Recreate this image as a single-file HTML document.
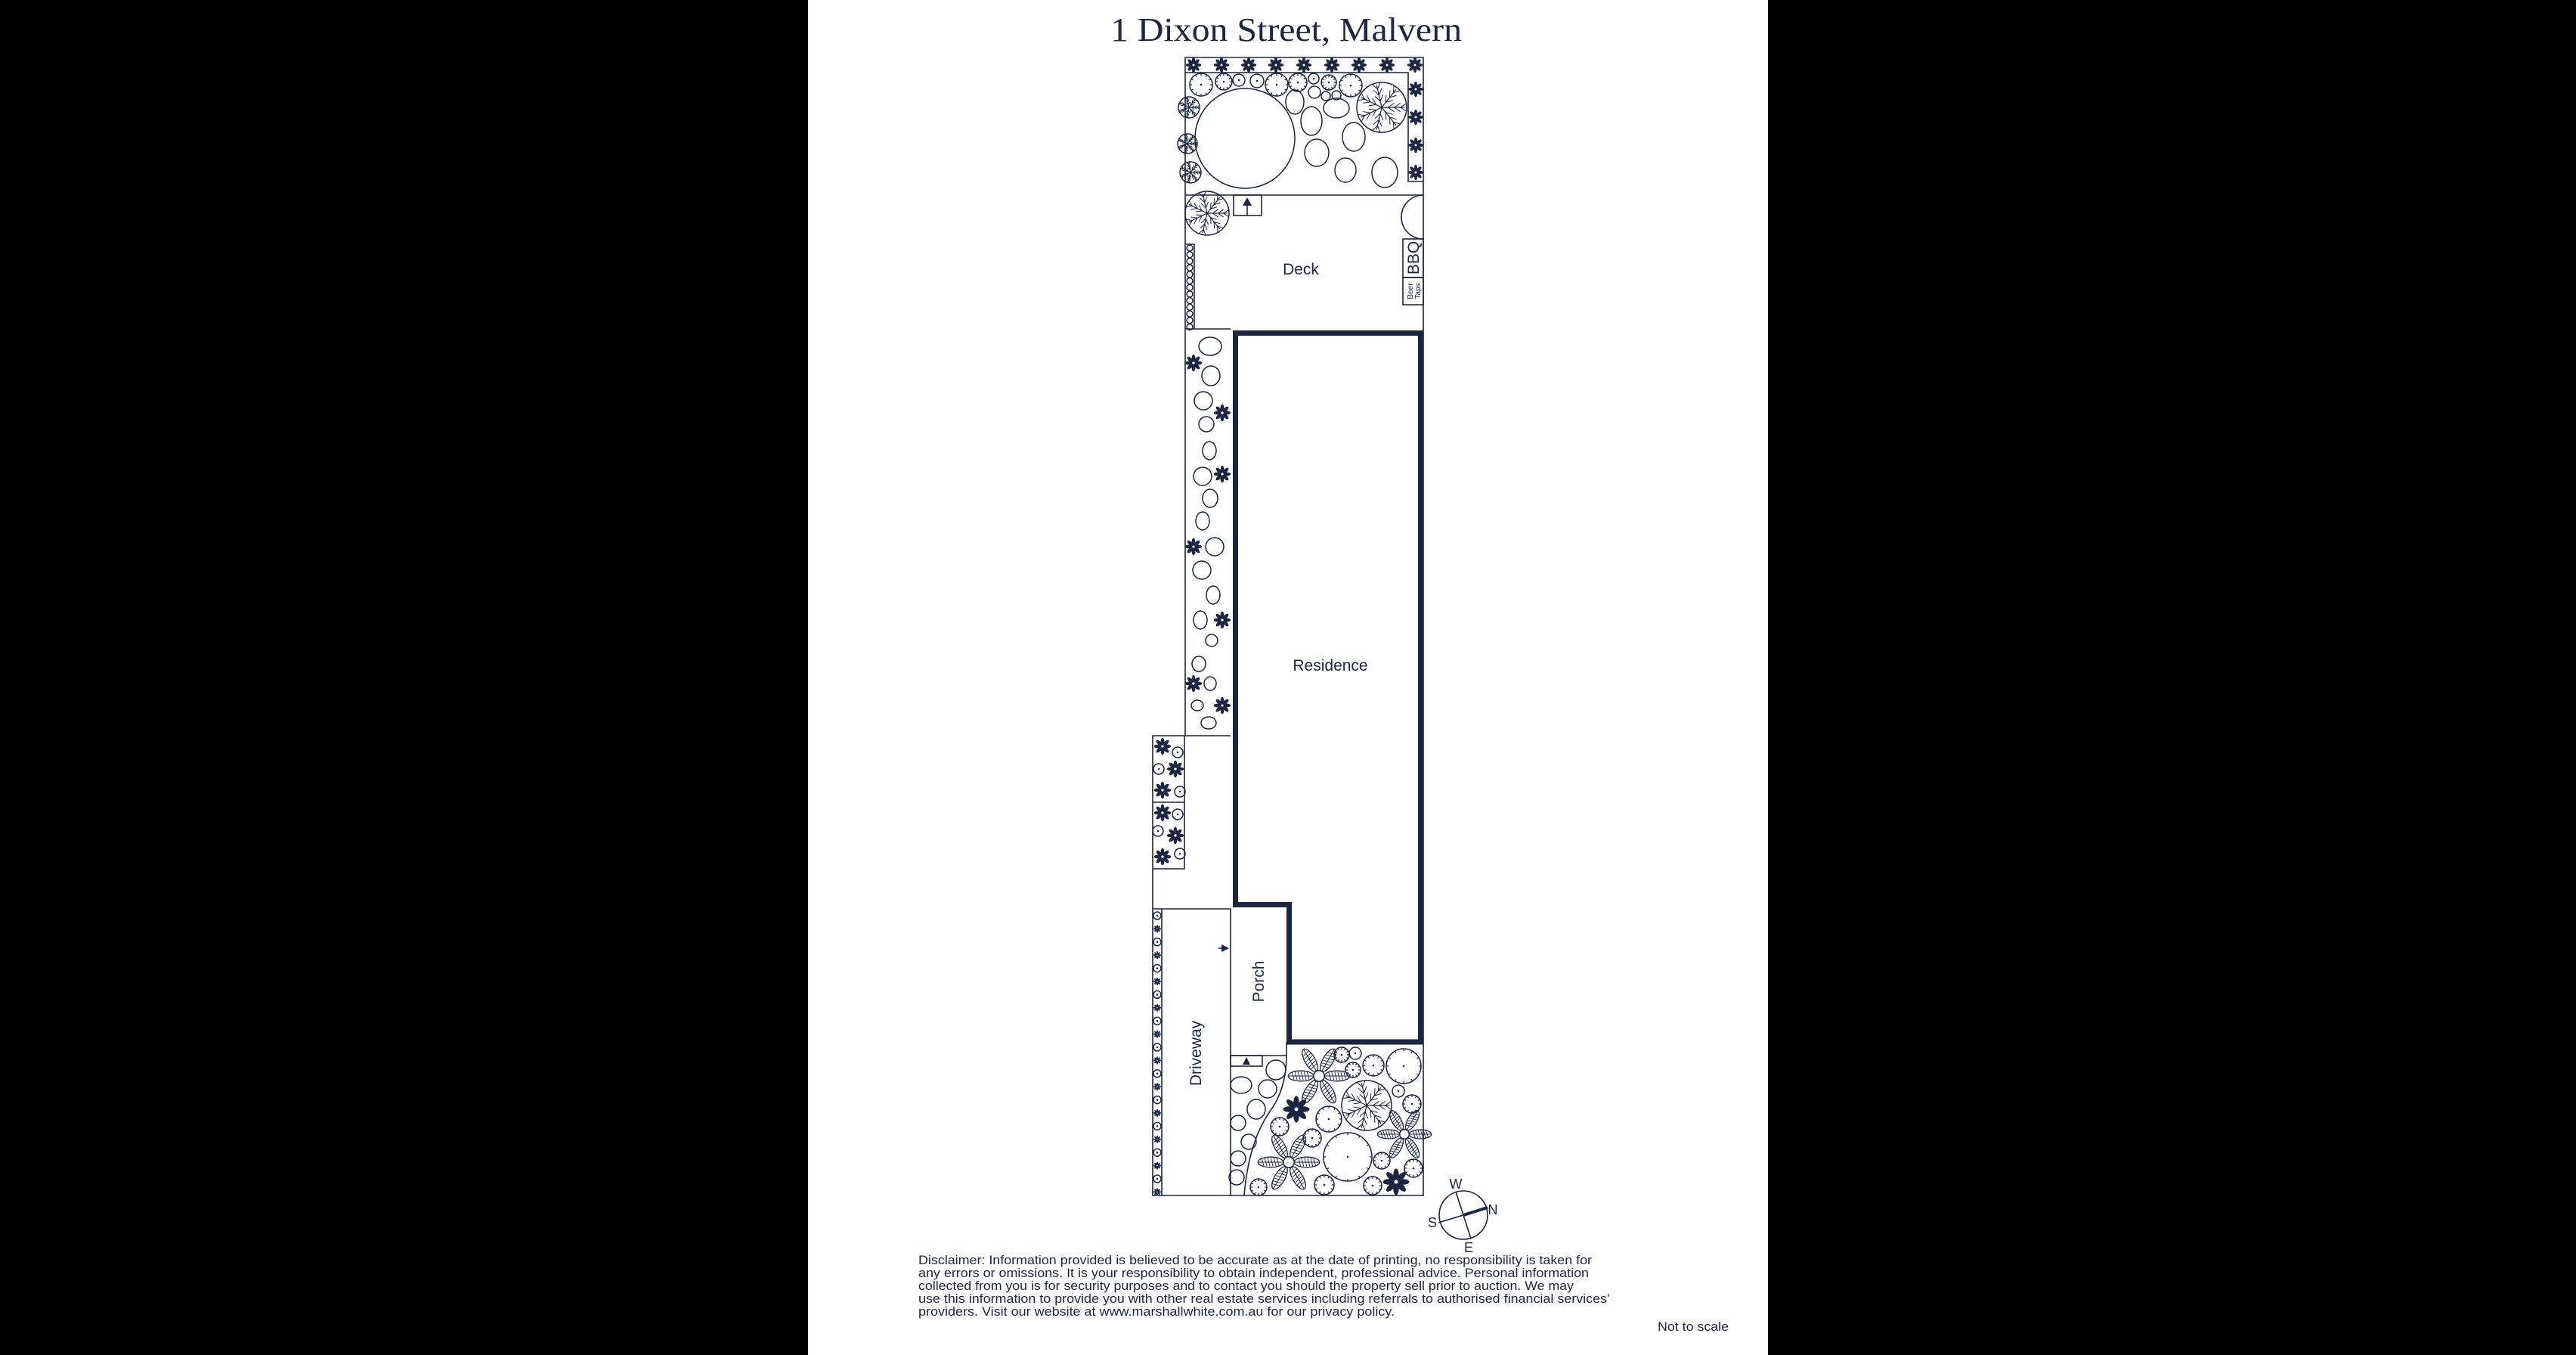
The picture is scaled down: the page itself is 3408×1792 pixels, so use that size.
<!DOCTYPE html>
<html><head><meta charset="utf-8"><style>
html,body{margin:0;padding:0;background:#000;}
svg{display:block}
</style></head><body>
<svg id="s" width="3408" height="1792" viewBox="0 0 3408 1792" xmlns="http://www.w3.org/2000/svg">
<rect x="0" y="0" width="3408" height="1792" fill="#000"/>
<rect x="1069" y="0" width="1270" height="1792" fill="#fff"/>
<text x="1469" y="54" textLength="465" lengthAdjust="spacingAndGlyphs" font-family="Liberation Serif, serif" font-size="44" fill="#1c2541">1 Dixon Street, Malvern</text>
<g id="lines" fill="none" stroke="#1c2541" stroke-width="1.6">
  <!-- lot outline -->
  <path d="M1568 76 H1883 V1581 H1525 V973 H1568 Z"/>
  <path d="M1568 96 H1863 V240 H1883"/>
  <path d="M1568 258 H1883"/>
  <rect x="1632" y="258" width="37" height="27"/>
  <line x1="1650" y1="270" x2="1650" y2="285"/>
  <path d="M1883 258 A29 29 0 0 0 1883 316"/>
  <rect x="1856" y="316" width="27" height="51"/>
  <rect x="1856" y="367" width="27" height="36"/>
  <path d="M1568 323 H1580 V435"/>
  <path d="M1568 435 H1628"/>
  <path d="M1568 973 H1628"/>
  <path d="M1525 1061 H1567 M1567 973 V1149 H1525"/>
  <path d="M1525 1202 H1628 V1581"/>
  <path d="M1537 1202 V1581"/>
  <path d="M1628 1396 H1702 V1378"/>
  <rect x="1628" y="1396" width="42" height="14"/>
  <path d="M1702 1396 Q1702 1440 1680 1470 Q1652 1510 1646 1581"/>
</g>
<path d="M1634.5 440.5 H1879.5 V1378 H1705.5 V1196.5 H1634.5 Z" fill="none" stroke="#1c2541" stroke-width="7"/>
<polygon points="1650,261 1644,272 1656,272" fill="#1c2541"/>
<polygon points="1649,1398 1644,1408 1654,1408" fill="#1c2541"/>
<polygon points="1626,1254 1616,1249 1616,1259" fill="#1c2541"/>
<line x1="1612" y1="1254" x2="1616" y2="1254" stroke="#1c2541" stroke-width="1.5"/>
<g font-family="Liberation Sans, sans-serif" fill="#1c2541">
<text x="1721" y="363" font-size="21" text-anchor="middle">Deck</text>
<text x="1760" y="887" font-size="21" text-anchor="middle">Residence</text>
<text font-size="21" text-anchor="middle" transform="translate(1589,1393) rotate(-90)">Driveway</text>
<text font-size="21" text-anchor="middle" transform="translate(1672,1298) rotate(-90)">Porch</text>
<text font-size="21" text-anchor="middle" transform="translate(1877,341) rotate(-90)">BBQ</text>
<text font-size="10" text-anchor="middle" transform="translate(1869,385) rotate(-90)">Beer</text>
<text font-size="10" text-anchor="middle" transform="translate(1879,385) rotate(-90)">Taps</text>
<text x="1926" y="1572" font-size="18" text-anchor="middle">W</text>
<text x="1975" y="1606" font-size="18" text-anchor="middle">N</text>
<text x="1895" y="1623" font-size="18" text-anchor="middle">S</text>
<text x="1943" y="1656" font-size="18" text-anchor="middle">E</text>
<g font-size="17">
<text x="1215" y="1672" textLength="891" lengthAdjust="spacingAndGlyphs">Disclaimer: Information provided is believed to be accurate as at the date of printing, no responsibility is taken for</text>
<text x="1215" y="1689" textLength="887" lengthAdjust="spacingAndGlyphs">any errors or omissions. It is your responsibility to obtain independent, professional advice. Personal information</text>
<text x="1215" y="1706" textLength="867" lengthAdjust="spacingAndGlyphs">collected from you is for security purposes and to contact you should the property sell prior to auction. We may</text>
<text x="1215" y="1723" textLength="915" lengthAdjust="spacingAndGlyphs">use this information to provide you with other real estate services including referrals to authorised financial services’</text>
<text x="1215" y="1740" textLength="630" lengthAdjust="spacingAndGlyphs">providers. Visit our website at www.marshallwhite.com.au for our privacy policy.</text>
<text x="2193" y="1760" textLength="94" lengthAdjust="spacingAndGlyphs">Not to scale</text>
</g>
</g>
<g fill="none" stroke="#1c2541" stroke-width="1.6">
<circle cx="1936" cy="1607" r="32"/>
<line x1="1926" y1="1576" x2="1946" y2="1638"/>
<line x1="1903" y1="1617" x2="1936" y2="1607"/>
<line x1="1936" y1="1607" x2="1968" y2="1597" stroke-width="4"/>
</g>
<g id="plants"></g>
</svg>
<script>
var NS="http://www.w3.org/2000/svg",g=document.getElementById("plants"),C="#1c2541";
function el(t,a){var e=document.createElementNS(NS,t);for(var k in a)e.setAttribute(k,a[k]);g.appendChild(e);return e;}
function circ(x,y,r){el("circle",{cx:x,cy:y,r:r,fill:"none",stroke:C,"stroke-width":1.5});}
function ov(x,y,rx,ry){el("ellipse",{cx:x,cy:y,rx:rx,ry:ry,fill:"none",stroke:C,"stroke-width":1.5});}
function dotc(x,y,r){circ(x,y,r);el("circle",{cx:x,cy:y,r:1.3,fill:C});
 if(r>9){for(var i=0;i<12;i++){var a=i*Math.PI/6;el("line",{x1:x+Math.cos(a)*r,y1:y+Math.sin(a)*r,x2:x+Math.cos(a)*(r-3),y2:y+Math.sin(a)*(r-3),stroke:C,"stroke-width":1.2});}}}
function star(x,y,r){for(var i=0;i<8;i++){var a=i*45;el("ellipse",{cx:x,cy:y-r*0.55,rx:r*0.22,ry:r*0.48,fill:C,transform:"rotate("+a+" "+x+" "+y+")"});}el("circle",{cx:x,cy:y,r:r*0.3,fill:C});el("circle",{cx:x,cy:y,r:r*0.15,fill:"#fff"});}
function tree(x,y,r){circ(x,y,r);for(var i=0;i<7;i++){var a=i*2*Math.PI/7;var ex=x+Math.cos(a)*r*0.92,ey=y+Math.sin(a)*r*0.92;el("line",{x1:x,y1:y,x2:ex,y2:ey,stroke:C,"stroke-width":1.2});
 for(var j=1;j<4;j++){var px=x+Math.cos(a)*r*j/4,py=y+Math.sin(a)*r*j/4;for(var s=-1;s<=1;s+=2){var b=a+s*0.6;el("line",{x1:px,y1:py,x2:px+Math.cos(b)*r*0.3,y2:py+Math.sin(b)*r*0.3,stroke:C,"stroke-width":1});}}}}
function fstar(x,y,r){for(var i=0;i<6;i++){var a=i*60-90;el("ellipse",{cx:x,cy:y-r*0.6,rx:r*0.17,ry:r*0.42,fill:"none",stroke:C,"stroke-width":1.3,transform:"rotate("+a+" "+x+" "+y+")"});
 el("line",{x1:x,y1:y-r*0.2,x2:x,y2:y-r,stroke:C,"stroke-width":1,transform:"rotate("+a+" "+x+" "+y+")"});
 for(var k=0;k<6;k++){var yy=y-r*0.32-k*r*0.1;el("line",{x1:x-r*0.14,y1:yy,x2:x+r*0.14,y2:yy-3,stroke:C,"stroke-width":0.9,transform:"rotate("+a+" "+x+" "+y+")"});}}
 circ(x,y,r*0.18);}
// top strip stars
[1579,1616,1652,1688,1725,1762,1798,1835,1872].forEach(function(x){star(x,86,10);});
[118,155,192,228].forEach(function(y){star(1873,y,10);});
// top garden
circ(1647,183,66);
[[1589,112,15],[1619,108,11],[1639,106,8],[1663,107,9],[1689,112,15],[1717,109,12],[1738,104,7],[1758,109,10],[1787,113,15]].forEach(function(c){dotc(c[0],c[1],c[2]);});
[[1713,135,12,16],[1735,160,14,19],[1768,143,17,13],[1791,181,15,19],[1742,202,16,18],[1780,225,14,16],[1832,228,17,20]].forEach(function(o){ov(o[0],o[1],o[2],o[3]);});
circ(1739,122,8);circ(1754,127,6);circ(1768,126,6);
tree(1828,142,33);tree(1573,142,14);tree(1571,190,13);tree(1575,228,14);tree(1597,282,29);
for(var i=0;i<13;i++)circ(1574,328+i*8.7,4);
// side bed
[[1601,458,15,12],[1602,497,12,13],[1592,530,12,12],[1596,561,10,10],[1600,596,9,12],[1591,630,12,12],[1601,659,10,12],[1591,689,9,12],[1607,723,12,12],[1590,754,12,12],[1605,787,9,12],[1588,820,9,12],[1603,847,8,8],[1586,878,9,10],[1601,904,8,9],[1584,933,8,7],[1599,956,10,8]].forEach(function(o){ov(o[0],o[1],o[2],o[3]);});
[[1579,480],[1617,546],[1617,627],[1579,723],[1617,820],[1579,904],[1617,933]].forEach(function(s){star(s[0],s[1],11);});
// lower left bed
[[1538,987],[1555,1017],[1538,1045],[1538,1075],[1555,1105],[1538,1133]].forEach(function(s){star(s[0],s[1],11);});
[[1558,995],[1533,1017],[1561,1047],[1558,1077],[1532,1099],[1561,1129]].forEach(function(c){dotc(c[0],c[1],7);});
// driveway strip
for(var i=0;i<22;i++){var y=1211+i*17.4;if(i%2==0)dotc(1531,y,5);else star(1531,y,5);}
// bottom garden
fstar(1745,1423,40);fstar(1705,1537,40);fstar(1858,1500,35);
star(1715,1467,17);star(1847,1563,17);
tree(1808,1462,33);
[[1783,1530,32],[1857,1410,23],[1775,1395,10],[1793,1393,8],[1790,1415,10],[1817,1409,14],[1850,1443,8],[1868,1460,12],[1758,1480,17],[1693,1490,12],[1736,1505,12],[1828,1535,11],[1870,1545,12],[1752,1567,13],[1816,1568,12],[1665,1570,11]].forEach(function(c){dotc(c[0],c[1],c[2]);});
[[1688,1415,13,13],[1642,1435,14,11],[1677,1440,12,12],[1662,1467,12,13],[1638,1485,10,10],[1652,1510,10,10],[1638,1532,10,10],[1636,1557,10,10]].forEach(function(o){ov(o[0],o[1],o[2],o[3]);});
</script>
</body></html>
